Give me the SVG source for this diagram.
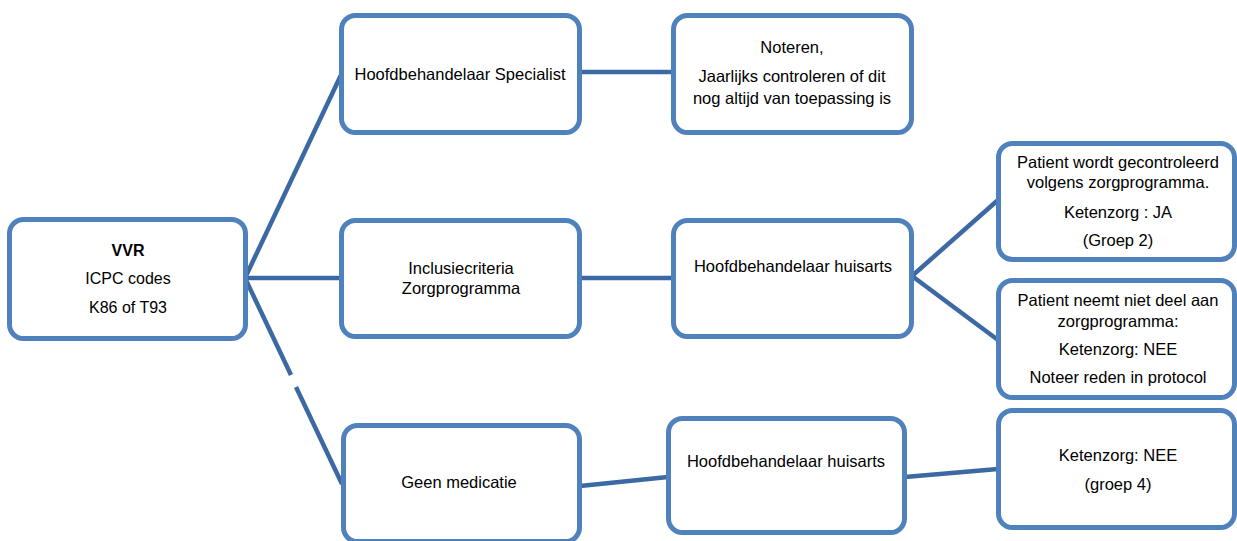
<svg xmlns="http://www.w3.org/2000/svg" width="1237" height="541" viewBox="0 0 1237 541">
  <style>
    .box { fill: #ffffff; stroke: #4f81bd; stroke-width: 5; }
    .link { stroke: #3c69a3; stroke-width: 4.5; fill: none; stroke-linecap: butt; }
    text { font-family: "Liberation Sans", Arial, sans-serif; font-size: 16.5px; fill: #000000; text-anchor: middle; }
    .b { font-weight: bold; }
    .s { font-size: 16px; }
  </style>

  <!-- connectors -->
  <g id="connectors">
    <line class="link" x1="245" y1="278" x2="341" y2="75"/>
    <line class="link" x1="245" y1="278" x2="343" y2="278"/>
    <line class="link" x1="245" y1="278" x2="291" y2="375"/>
    <line class="link" x1="296" y1="387" x2="342" y2="484"/>
    <line class="link" x1="580" y1="72" x2="673" y2="72"/>
    <line class="link" x1="580" y1="278" x2="673" y2="278"/>
    <line class="link" x1="912" y1="276" x2="998" y2="200"/>
    <line class="link" x1="912" y1="276" x2="998" y2="340"/>
    <line class="link" x1="580" y1="486" x2="668" y2="477"/>
    <line class="link" x1="905" y1="477" x2="998" y2="469"/>
  </g>

  <g id="vvr">
    <rect class="box" x="9.5" y="219.5" width="236" height="119" rx="14"/>
    <text class="b s" x="128" y="256">VVR</text>
    <text class="s" x="128" y="284">ICPC codes</text>
    <text class="s" x="128" y="313">K86 of T93</text>
  </g>

  <g id="specialist">
    <rect class="box" x="341.5" y="15.5" width="238" height="117" rx="14"/>
    <text x="460" y="80">Hoofdbehandelaar Specialist</text>
  </g>

  <g id="noteren">
    <rect class="box" x="673.5" y="15.5" width="238" height="117" rx="14"/>
    <text x="792" y="53">Noteren,</text>
    <text x="792" y="82">Jaarlijks controleren of dit</text>
    <text x="792" y="104">nog altijd van toepassing is</text>
  </g>

  <g id="inclusie">
    <rect class="box" x="341.5" y="220.5" width="238" height="116" rx="14"/>
    <text x="461" y="274">Inclusiecriteria</text>
    <text x="461" y="294">Zorgprogramma</text>
  </g>

  <g id="huisarts-1">
    <rect class="box" x="673.5" y="220.5" width="238" height="116" rx="14"/>
    <text x="793" y="272">Hoofdbehandelaar huisarts</text>
  </g>

  <g id="ketenzorg-ja">
    <rect class="box" x="998.5" y="143.5" width="236" height="116" rx="14"/>
    <text x="1118" y="168">Patient wordt gecontroleerd</text>
    <text x="1118" y="188">volgens zorgprogramma.</text>
    <text x="1118" y="218">Ketenzorg : JA</text>
    <text x="1118" y="246">(Groep 2)</text>
  </g>

  <g id="ketenzorg-nee-1">
    <rect class="box" x="998.5" y="280.5" width="236" height="117" rx="14"/>
    <text x="1118" y="306">Patient neemt niet deel aan</text>
    <text x="1118" y="327">zorgprogramma:</text>
    <text x="1118" y="355">Ketenzorg: NEE</text>
    <text x="1118" y="383">Noteer reden in protocol</text>
  </g>

  <g id="geen-medicatie">
    <rect class="box" x="343.5" y="425.5" width="236" height="116" rx="14"/>
    <text x="459" y="488">Geen medicatie</text>
  </g>

  <g id="huisarts-2">
    <rect class="box" x="668.5" y="418.5" width="236" height="114" rx="14"/>
    <text x="786" y="467">Hoofdbehandelaar huisarts</text>
  </g>

  <g id="ketenzorg-nee-2">
    <rect class="box" x="998.5" y="410.5" width="236" height="117" rx="14"/>
    <text x="1118" y="461">Ketenzorg: NEE</text>
    <text x="1118" y="490">(groep 4)</text>
  </g>
</svg>
